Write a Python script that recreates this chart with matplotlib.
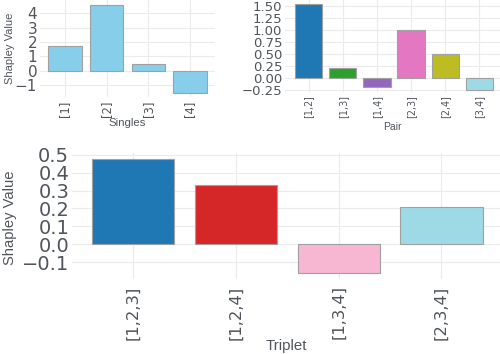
import matplotlib
matplotlib.use("Agg")
import matplotlib.pyplot as plt

# ---- data ----
singles = ["[1]", "[2]", "[3]", "[4]"]
singles_vals = [1.72, 4.53, 0.46, -1.5]

pairs = ["[1,2]", "[1,3]", "[1,4]", "[2,3]", "[2,4]", "[3,4]"]
pairs_vals = [1.54, 0.205, -0.2, 1.01, 0.50, -0.25]
pairs_colors = ["#1f77b4", "#2ca02c", "#9467bd", "#e377c2", "#bcbd22", "#9edae5"]

triplets = ["[1,2,3]", "[1,2,4]", "[1,3,4]", "[2,3,4]"]
triplets_vals = [0.475, 0.33, -0.162, 0.208]
triplets_colors = ["#1f77b4", "#d62728", "#f7b6d2", "#9edae5"]

txt = "#50555b"
grid_c = "#ebebeb"
edge_c = "#a0a0a0"
lab_font = "Liberation Sans"

W, H = 500, 354
fig = plt.figure(figsize=(5, 3.54), dpi=100)


def box(l, t, r, b):
    return [l / W, 1 - b / H, (r - l) / W, (b - t) / H]


def style(ax, ytick_size, xtick_size, xpad):
    for s in ax.spines.values():
        s.set_visible(False)
    ax.set_axisbelow(True)
    ax.grid(True, color=grid_c, lw=0.8)
    ax.tick_params(length=0, colors=txt)
    ax.tick_params(axis="y", labelsize=ytick_size, pad=2)
    ax.tick_params(axis="x", labelsize=xtick_size, pad=xpad, labelrotation=90)
    for t in ax.get_yticklabels() + ax.get_xticklabels():
        t.set_family("DejaVu Sans")


# ---- singles ----
ax1 = fig.add_axes(box(40, 0, 215, 97))
ax1.bar(range(len(singles)), singles_vals, width=0.8, color="skyblue",
        edgecolor=edge_c, linewidth=0.8)
ax1.set_xticks(range(len(singles)))
ax1.set_xticklabels(singles)
ax1.set_yticks([-1, 0, 1, 2, 3, 4])
ax1.set_xlim(-0.6, 3.6)
ax1.set_ylim(-1.8, 4.9)
style(ax1, 11, 8.3, 2.5)
ax1.set_ylabel("Shapley Value", fontsize=8, color=txt, family=lab_font)
ax1.yaxis.set_label_coords(-0.143, 0.5)
ax1.set_xlabel("Singles", fontsize=8.2, color=txt, family=lab_font)
ax1.xaxis.set_label_coords(0.5, -0.215)

# ---- pairs ----
ax2 = fig.add_axes(box(285, 0, 500, 92))
ax2.bar(range(len(pairs)), pairs_vals, width=0.8, color=pairs_colors,
        edgecolor=edge_c, linewidth=0.8)
ax2.set_xticks(range(len(pairs)))
ax2.set_xticklabels(pairs)
ax2.set_yticks([-0.25, 0, 0.25, 0.5, 0.75, 1.0, 1.25, 1.5])
ax2.set_yticklabels(["\u22120.25", "0.00", "0.25", "0.50", "0.75", "1.00", "1.25", "1.50"])
ax2.set_xlim(-0.69, 5.6)
ax2.set_ylim(-0.3, 1.63)
style(ax2, 9.5, 6.9, 2.5)
ax2.set_xlabel("Pair", fontsize=7.5, color=txt, family=lab_font)
ax2.xaxis.set_label_coords(0.5, -0.33)

# ---- triplets ----
ax3 = fig.add_axes(box(72, 153, 500, 279))
ax3.bar(range(len(triplets)), triplets_vals, width=0.8, color=triplets_colors,
        edgecolor=edge_c, linewidth=0.8)
ax3.set_xticks(range(len(triplets)))
ax3.set_xticklabels(triplets)
ax3.set_yticks([-0.1, 0, 0.1, 0.2, 0.3, 0.4, 0.5])
ax3.set_xlim(-0.594, 3.57)
ax3.set_ylim(-0.194, 0.51)
style(ax3, 14, 11.8, 4.5)
ax3.set_ylabel("Shapley Value", fontsize=10.6, color=txt, family=lab_font)
ax3.yaxis.set_label_coords(-0.1285, 0.49)
ax3.set_xlabel("Triplet", fontsize=10.8, color=txt, family=lab_font)
ax3.xaxis.set_label_coords(0.5, -0.48)

fig.savefig("out.png", dpi=100)
